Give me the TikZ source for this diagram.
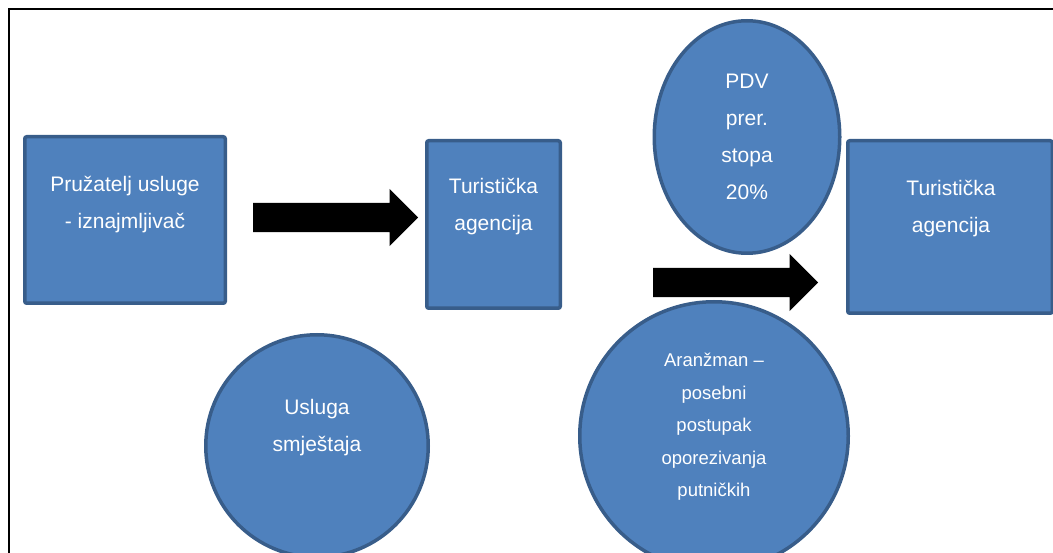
\documentclass[tikz,border=0pt]{standalone}
\usepackage{fontspec}
\setmainfont{Liberation Sans}
\usetikzlibrary{shapes.geometric,shapes.arrows}
\definecolor{boxfill}{HTML}{4F81BD}
\definecolor{boxline}{HTML}{385D8A}

\begin{document}
\begin{tikzpicture}
  [x=1pt,y=-1pt,
   box/.style={rectangle,rounded corners=2pt,draw=boxline,fill=boxfill,line width=3.5pt},
   oval/.style={ellipse,draw=boxline,fill=boxfill,line width=3.5pt,inner sep=0pt},
   txt/.style={text=white,align=center,font=\fontsize{21}{37}\selectfont},
   smalltxt/.style={txt,font=\fontsize{18.5}{32.5}\selectfont},
   blockarrow/.style={single arrow,fill=black,inner sep=0pt,text height=29pt,text depth=0pt,
     single arrow head extend=14pt,minimum height=165pt,anchor=west}]

  \useasboundingbox (0,0) rectangle (1053,553);
  \clip (0,0) rectangle (1053,553);
  \draw[line width=2pt] (9,560) -- (9,9) -- (1060,9);

  % shapes
  \node[box,minimum width=200.5pt,minimum height=166.5pt] (prov) at (125,220) {};
  \node[box,minimum width=133.5pt,minimum height=167.5pt] (agency1) at (493.5,224.5) {};
  \node[box,minimum width=204.5pt,minimum height=172.5pt] (agency2) at (950,227) {};
  \node[oval,minimum width=185.5pt,minimum height=232.5pt] (vat) at (747,137) {};
  \node[oval,minimum width=222.5pt,minimum height=222.5pt] (service) at (317,446) {};
  \node[oval,minimum width=268.5pt,minimum height=268.5pt] (package) at (714,436) {};

  % texts
  \node[txt] (provtxt) at (125,205) {Pružatelj usluge\\- iznajmljivač};
  \node[txt] (agency1txt) at (493.5,207) {Turistička\\agencija};
  \node[txt] (agency2txt) at (951,208.5) {Turistička\\agencija};
  \node[txt] (vattxt) at (747,137) {PDV\\prer.\\stopa\\20\%};
  \node[txt] (servicetxt) at (317,428) {Usluga\\smještaja};
  \node[smalltxt] (packagetxt) at (714,427) {Aranžman –\\posebni\\postupak\\oporezivanja\\putničkih};

  % arrows
  \node[blockarrow] (arr1) at (253,217.5) {};
  \node[blockarrow] (arr2) at (653,282.5) {};

\end{tikzpicture}
\end{document}
